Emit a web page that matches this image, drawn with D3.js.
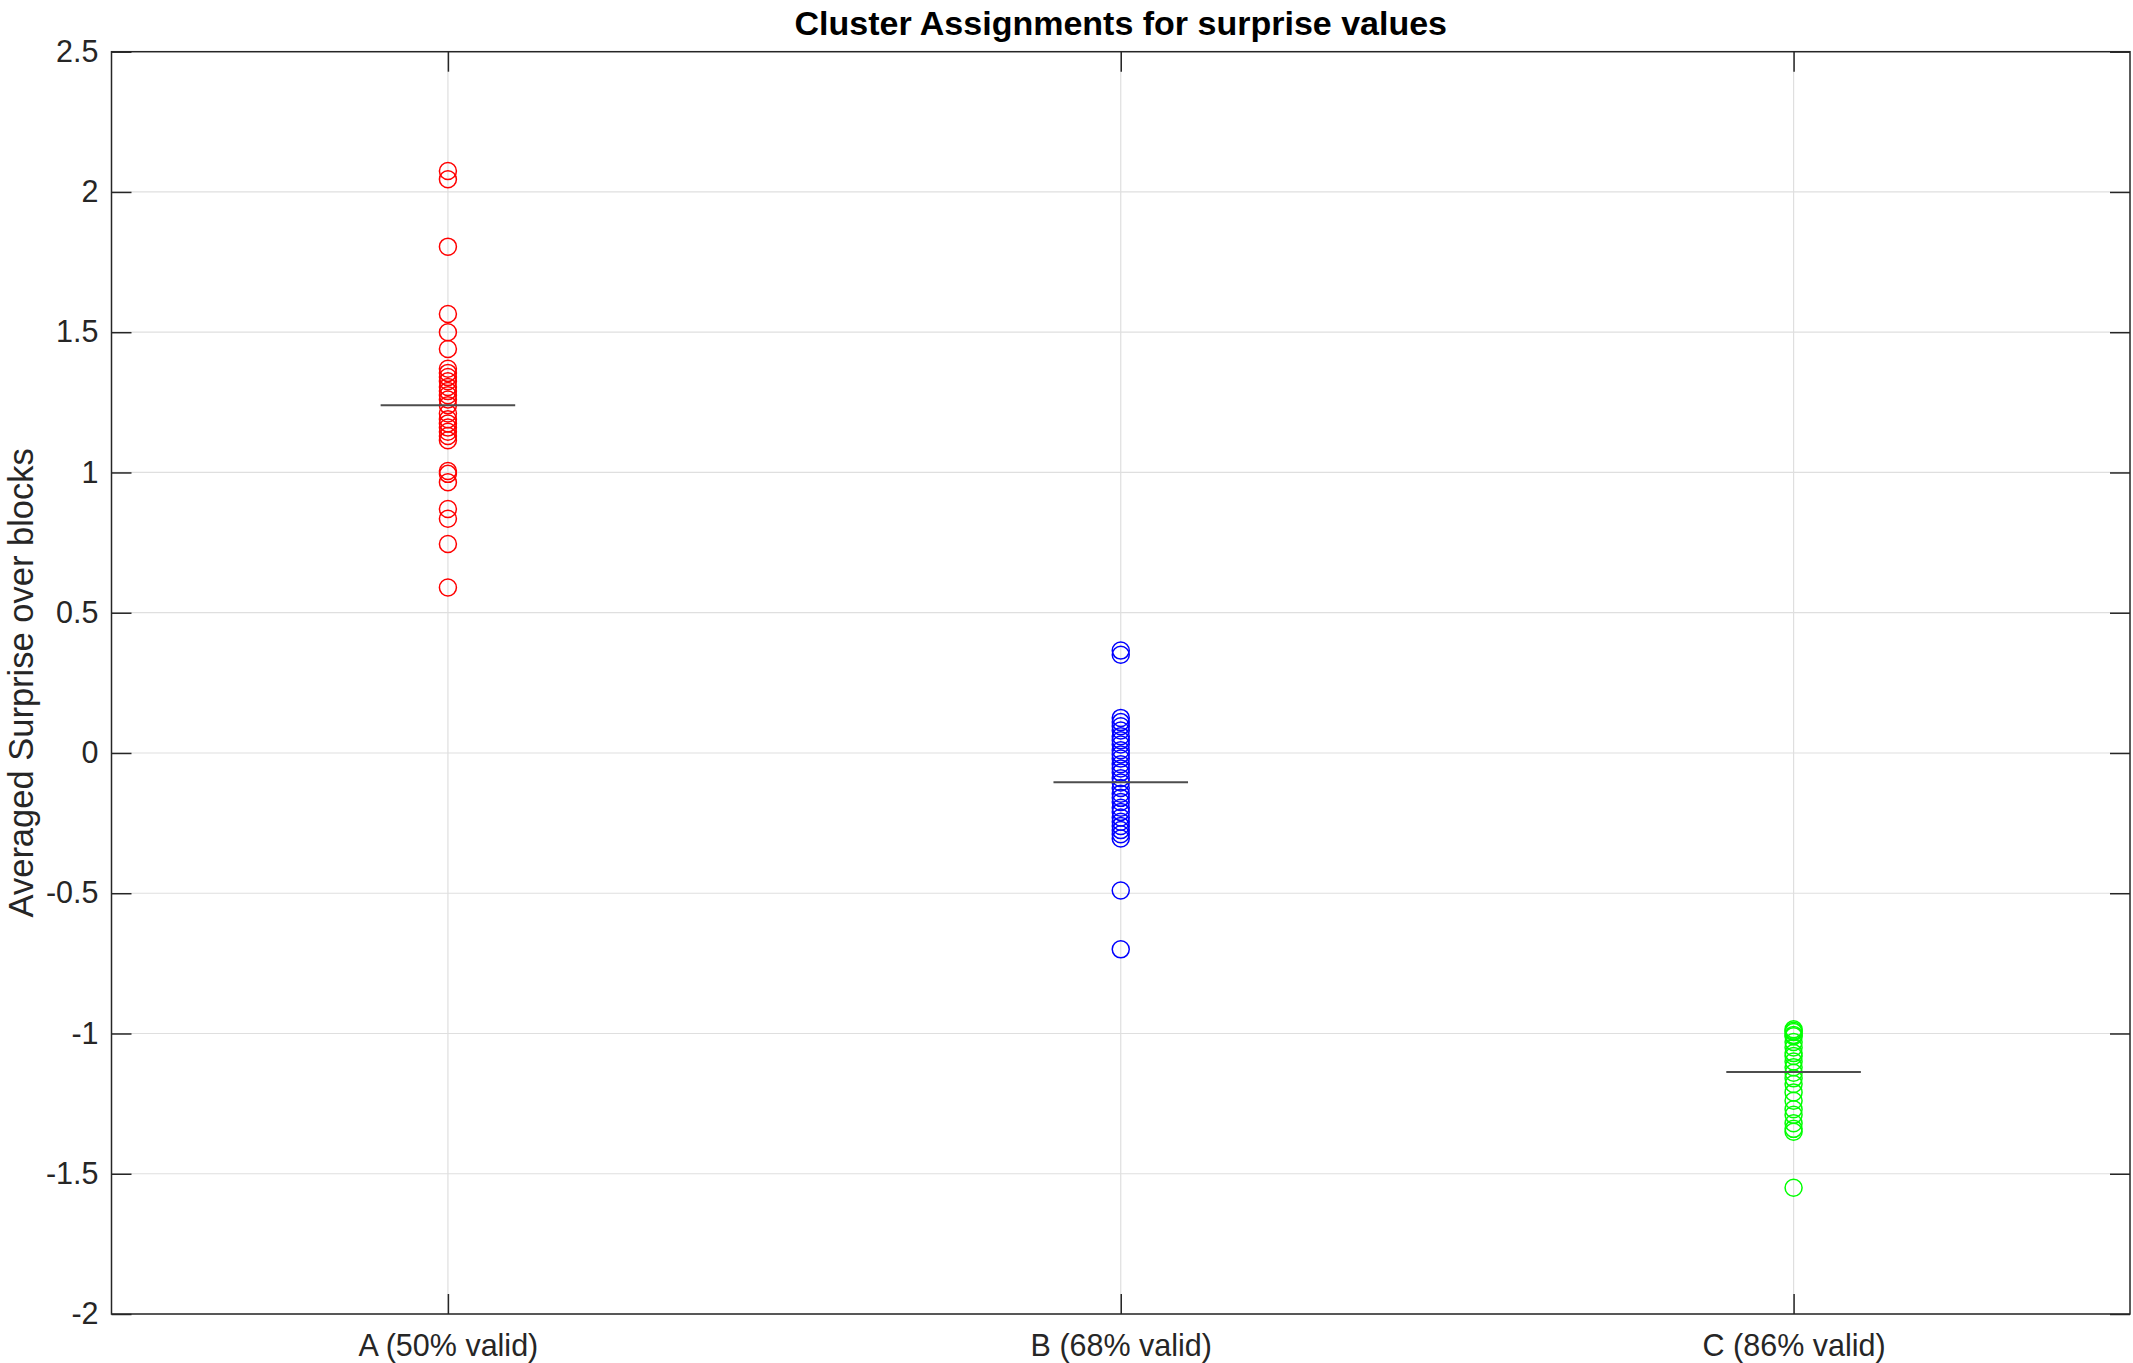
<!DOCTYPE html>
<html>
<head>
<meta charset="utf-8">
<script src="https://cdn.jsdelivr.net/npm/d3@7"></script>
<style>
  html, body { margin: 0; padding: 0; background: #ffffff; }
  svg { display: block; }
</style>
</head>
<body>
<svg id="chart" width="2133" height="1363"></svg>
<script>
// ---- data ----
const categories = ["A (50% valid)", "B (68% valid)", "C (86% valid)"];
const clusterColors = ["#ff0000", "#0000ff", "#00ff00"];
const valuesA = [2.075, 2.045, 1.805, 1.565, 1.500, 1.440, 1.370, 1.355, 1.340, 1.325,
                 1.305, 1.290, 1.275, 1.260, 1.240, 1.210, 1.190, 1.175, 1.160, 1.145,
                 1.130, 1.115, 1.005, 0.995, 0.965, 0.870, 0.835, 0.745, 0.590];
const valuesB = [0.365, 0.350, 0.125, 0.110, 0.095, 0.080, 0.060, 0.045, 0.030, 0.010,
                 -0.005, -0.020, -0.040, -0.055, -0.070, -0.090, -0.105, -0.125, -0.145,
                 -0.160, -0.175, -0.195, -0.210, -0.230, -0.245, -0.260, -0.275, -0.290,
                 -0.305, -0.490, -0.700];
const valuesC = [-0.985, -0.990, -0.995, -1.005, -1.010, -1.030, -1.050, -1.070, -1.080,
                 -1.100, -1.120, -1.140, -1.160, -1.180, -1.210, -1.240, -1.270, -1.290,
                 -1.320, -1.340, -1.350, -1.550];
const clusterMeans = [1.240, -0.104, -1.137];
const yTicks = [-2, -1.5, -1, -0.5, 0, 0.5, 1, 1.5, 2, 2.5];
const titleText = "Cluster Assignments for surprise values";
const yLabelText = "Averaged Surprise over blocks";

// ---- layout ----
const W = 2133, H = 1363;
const L = 111.5, R = 2130, T = 51.7, B = 1314;
const svg = d3.select("#chart");
const axisColor = "#262626";
const gridColor = "#dfdfdf";
const font = "'Liberation Sans', Helvetica, Arial, sans-serif";

const x = d3.scaleLinear().domain([0.5, 3.5]).range([L, R]);
const y = d3.scaleLinear().domain([-2, 2.5]).range([B, T]);
const catPos = categories.map((c, i) => i + 1);

// grid
const grid = svg.append("g");
grid.selectAll("line.gy").data(yTicks).join("line")
  .attr("x1", L).attr("x2", R)
  .attr("y1", d => y(d)).attr("y2", d => y(d))
  .attr("stroke", gridColor).attr("stroke-width", 1.2);
grid.selectAll("line.gx").data(catPos).join("line")
  .attr("x1", d => x(d)).attr("x2", d => x(d))
  .attr("y1", T).attr("y2", B)
  .attr("stroke", gridColor).attr("stroke-width", 1.2);

// axes
const tickLen = 20;
const xAxis = d3.axisBottom(x).tickValues(catPos)
  .tickFormat((d, i) => categories[i]).tickSizeInner(-tickLen).tickSizeOuter(0).tickPadding(20);
const xAxisTop = d3.axisTop(x).tickValues(catPos).tickFormat("").tickSizeInner(-tickLen).tickSizeOuter(0);
const yAxis = d3.axisLeft(y).tickValues(yTicks)
  .tickFormat(d => String(d)).tickSizeInner(-tickLen).tickSizeOuter(0).tickPadding(13);
const yAxisRight = d3.axisRight(y).tickValues(yTicks).tickFormat("").tickSizeInner(-tickLen).tickSizeOuter(0);

function styleAxis(g) {
  g.select(".domain").remove();
  g.selectAll(".tick line").attr("stroke", axisColor).attr("stroke-width", 1.5);
  g.selectAll(".tick text").attr("fill", axisColor)
    .style("font-family", font).style("font-size", "30.5px");
}
svg.append("g").attr("transform", `translate(0,${B})`).call(xAxis).call(styleAxis);
svg.append("g").attr("transform", `translate(0,${T})`).call(xAxisTop).call(styleAxis);
svg.append("g").attr("transform", `translate(${L},0)`).call(yAxis).call(styleAxis);
svg.append("g").attr("transform", `translate(${R},0)`).call(yAxisRight).call(styleAxis);

// box
svg.append("rect").attr("x", L).attr("y", T).attr("width", R - L).attr("height", B - T)
  .attr("fill", "none").attr("stroke", axisColor).attr("stroke-width", 1.5);

// points
const series = [valuesA, valuesB, valuesC];
series.forEach((vals, i) => {
  svg.append("g").selectAll("circle").data(vals).join("circle")
    .attr("cx", x(catPos[i])).attr("cy", d => y(d)).attr("r", 8.5)
    .attr("fill", "none").attr("stroke", clusterColors[i]).attr("stroke-width", 1.5);
});

// mean lines
svg.append("g").selectAll("line").data(clusterMeans).join("line")
  .attr("x1", (d, i) => x(catPos[i] - 0.1)).attr("x2", (d, i) => x(catPos[i] + 0.1))
  .attr("y1", d => y(d)).attr("y2", d => y(d))
  .attr("stroke", "#4d4d4d").attr("stroke-width", 2);

// title
svg.append("text").attr("x", (L + R) / 2).attr("y", 35)
  .attr("text-anchor", "middle").attr("fill", "#000")
  .style("font-family", font).style("font-size", "34px").style("font-weight", "bold")
  .text(titleText);

// y label
svg.append("text")
  .attr("transform", `translate(33,${(T + B) / 2}) rotate(-90)`)
  .attr("text-anchor", "middle").attr("fill", axisColor)
  .style("font-family", font).style("font-size", "34.5px")
  .text(yLabelText);
</script>
</body>
</html>
